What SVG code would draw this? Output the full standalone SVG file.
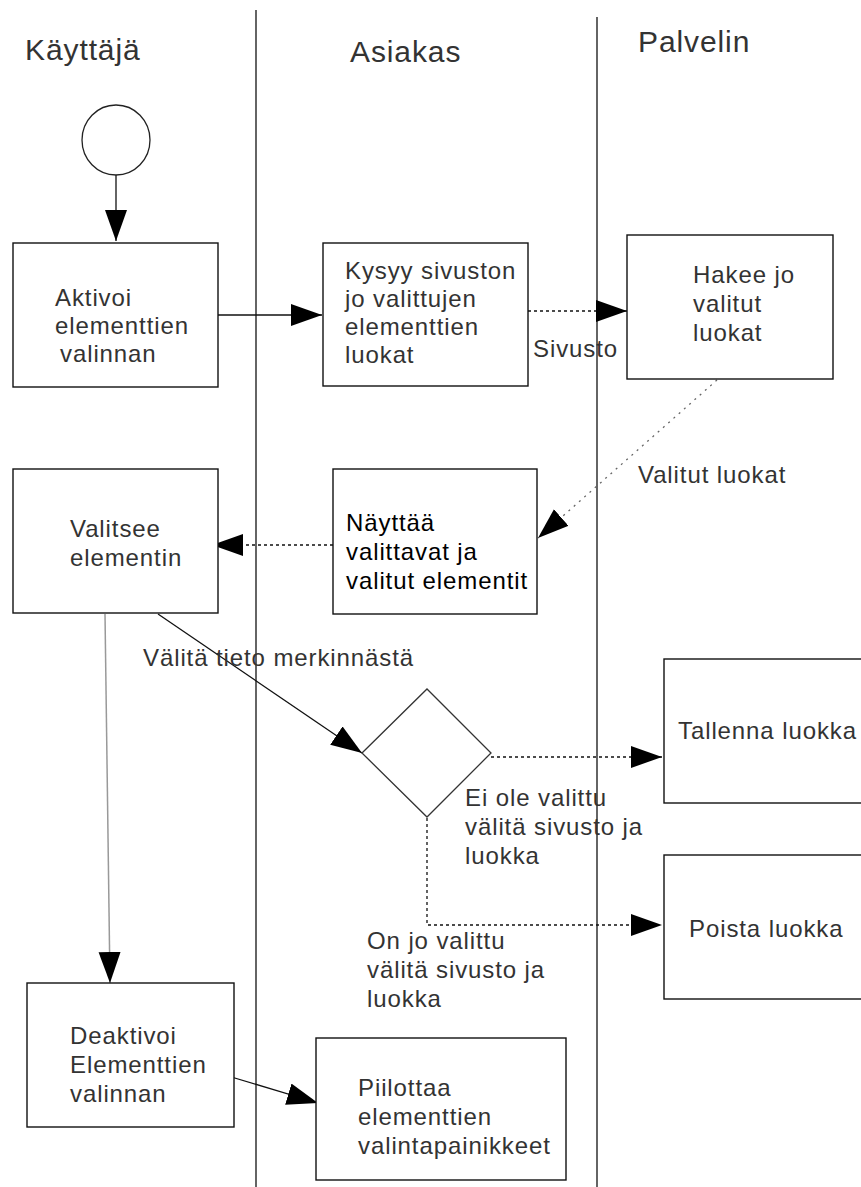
<svg xmlns="http://www.w3.org/2000/svg" width="861" height="1187" viewBox="0 0 861 1187">
  <style>
    .lane { stroke: #111; stroke-width: 1.3; fill: none; }
    .box { fill: #fff; stroke: #111; stroke-width: 1.4; }
    .hdr { font-family: "Liberation Sans", Arial, sans-serif; font-size: 30px; fill: #333; letter-spacing: 0.9px; }
    .t { font-family: "Liberation Sans", Arial, sans-serif; font-size: 24px; fill: #333; letter-spacing: 0.9px; }
    .dark { fill: #000; }
    .solid { stroke: #111; stroke-width: 1.3; fill: none; }
    .grey { stroke: #999; stroke-width: 1.5; fill: none; }
    .dash { stroke: #111; stroke-width: 1.3; fill: none; stroke-dasharray: 3 3; }
    .dots { stroke: #666; stroke-width: 1.3; fill: none; stroke-dasharray: 2 5; }
  </style>
  <defs>
    <marker id="arrow" markerUnits="userSpaceOnUse" markerWidth="32" markerHeight="24" refX="31" refY="11" orient="auto">
      <path d="M0,0 L31,11 L0,22 z" fill="#000"/>
    </marker>
  </defs>

  <rect width="861" height="1187" fill="#fff"/>

  <!-- swimlanes -->
  <g id="lanes">
    <line class="lane" x1="256" y1="10" x2="256" y2="1187"/>
    <line class="lane" x1="597" y1="17" x2="597" y2="1187"/>
    <text class="hdr" x="25" y="60">Käyttäjä</text>
    <text class="hdr" x="350" y="62">Asiakas</text>
    <text class="hdr" x="638" y="52">Palvelin</text>
  </g>

  <!-- connectors -->
  <g id="connectors">
    <line class="solid" x1="116" y1="175" x2="116" y2="241" marker-end="url(#arrow)"/>
    <line class="solid" x1="218" y1="315" x2="322" y2="315" marker-end="url(#arrow)"/>
    <line class="dash" x1="528" y1="311" x2="627" y2="311" marker-end="url(#arrow)"/>
    <line class="dots" x1="717" y1="380" x2="538" y2="538" marker-end="url(#arrow)"/>
    <line class="dash" x1="333" y1="545" x2="212" y2="545" marker-end="url(#arrow)"/>
    <line class="solid" x1="158" y1="614" x2="362" y2="753" marker-end="url(#arrow)"/>
    <line class="grey" x1="105" y1="614" x2="110" y2="983" marker-end="url(#arrow)"/>
    <line class="dash" x1="491" y1="757" x2="662" y2="757" marker-end="url(#arrow)"/>
    <polyline class="dash" points="427,818 427,925 662,925" marker-end="url(#arrow)"/>
    <line class="solid" x1="228" y1="1076" x2="318" y2="1103" marker-end="url(#arrow)"/>

    <text class="t" x="533" y="357">Sivusto</text>
    <text class="t" x="638" y="483">Valitut luokat</text>
    <text class="t" x="143" y="666">Välitä tieto merkinnästä</text>
    <text class="t" x="465" y="806">Ei ole valittu</text>
    <text class="t" x="465" y="835">välitä sivusto ja</text>
    <text class="t" x="465" y="864">luokka</text>
    <text class="t" x="367" y="949">On jo valittu</text>
    <text class="t" x="367" y="978">välitä sivusto ja</text>
    <text class="t" x="367" y="1007">luokka</text>
  </g>

  <g id="start">
    <ellipse cx="116" cy="140" rx="34" ry="35" fill="#fff" stroke="#222" stroke-width="1.3"/>
  </g>

  <g id="aktivoi">
    <rect class="box" x="13" y="243" width="205" height="144"/>
    <text class="t" x="55" y="306">Aktivoi</text>
    <text class="t" x="55" y="334">elementtien</text>
    <text class="t" x="60" y="362">valinnan</text>
  </g>

  <g id="kysyy">
    <rect class="box" x="323" y="243" width="205" height="143"/>
    <text class="t" x="345" y="279">Kysyy sivuston</text>
    <text class="t" x="345" y="307">jo valittujen</text>
    <text class="t" x="345" y="335">elementtien</text>
    <text class="t" x="345" y="363">luokat</text>
  </g>

  <g id="hakee">
    <rect class="box" x="627" y="235" width="206" height="144"/>
    <text class="t" x="693" y="283">Hakee jo</text>
    <text class="t" x="693" y="312">valitut</text>
    <text class="t" x="693" y="341">luokat</text>
  </g>

  <g id="nayttaa">
    <rect class="box" x="333" y="469" width="204" height="145"/>
    <text class="t dark" x="346" y="531">Näyttää</text>
    <text class="t dark" x="346" y="560">valittavat ja</text>
    <text class="t dark" x="346" y="589">valitut elementit</text>
  </g>

  <g id="valitsee">
    <rect class="box" x="13" y="469" width="205" height="144"/>
    <text class="t" x="70" y="537">Valitsee</text>
    <text class="t" x="70" y="566">elementin</text>
  </g>

  <g id="paatos">
    <polygon points="362,753 427,689 491,753 427,817" fill="#fff" stroke="#333" stroke-width="1.3"/>
  </g>

  <g id="tallenna">
    <rect class="box" x="664" y="659" width="210" height="144"/>
    <text class="t" x="678" y="739">Tallenna luokka</text>
  </g>

  <g id="poista">
    <rect class="box" x="664" y="855" width="210" height="144"/>
    <text class="t" x="689" y="937">Poista luokka</text>
  </g>

  <g id="deaktivoi">
    <rect class="box" x="27" y="983" width="207" height="144"/>
    <text class="t" x="70" y="1044">Deaktivoi</text>
    <text class="t" x="70" y="1073">Elementtien</text>
    <text class="t" x="70" y="1102">valinnan</text>
  </g>

  <g id="piilottaa">
    <rect class="box" x="316" y="1038" width="250" height="142"/>
    <text class="t" x="358" y="1096">Piilottaa</text>
    <text class="t" x="358" y="1125">elementtien</text>
    <text class="t" x="358" y="1154">valintapainikkeet</text>
  </g>
</svg>
